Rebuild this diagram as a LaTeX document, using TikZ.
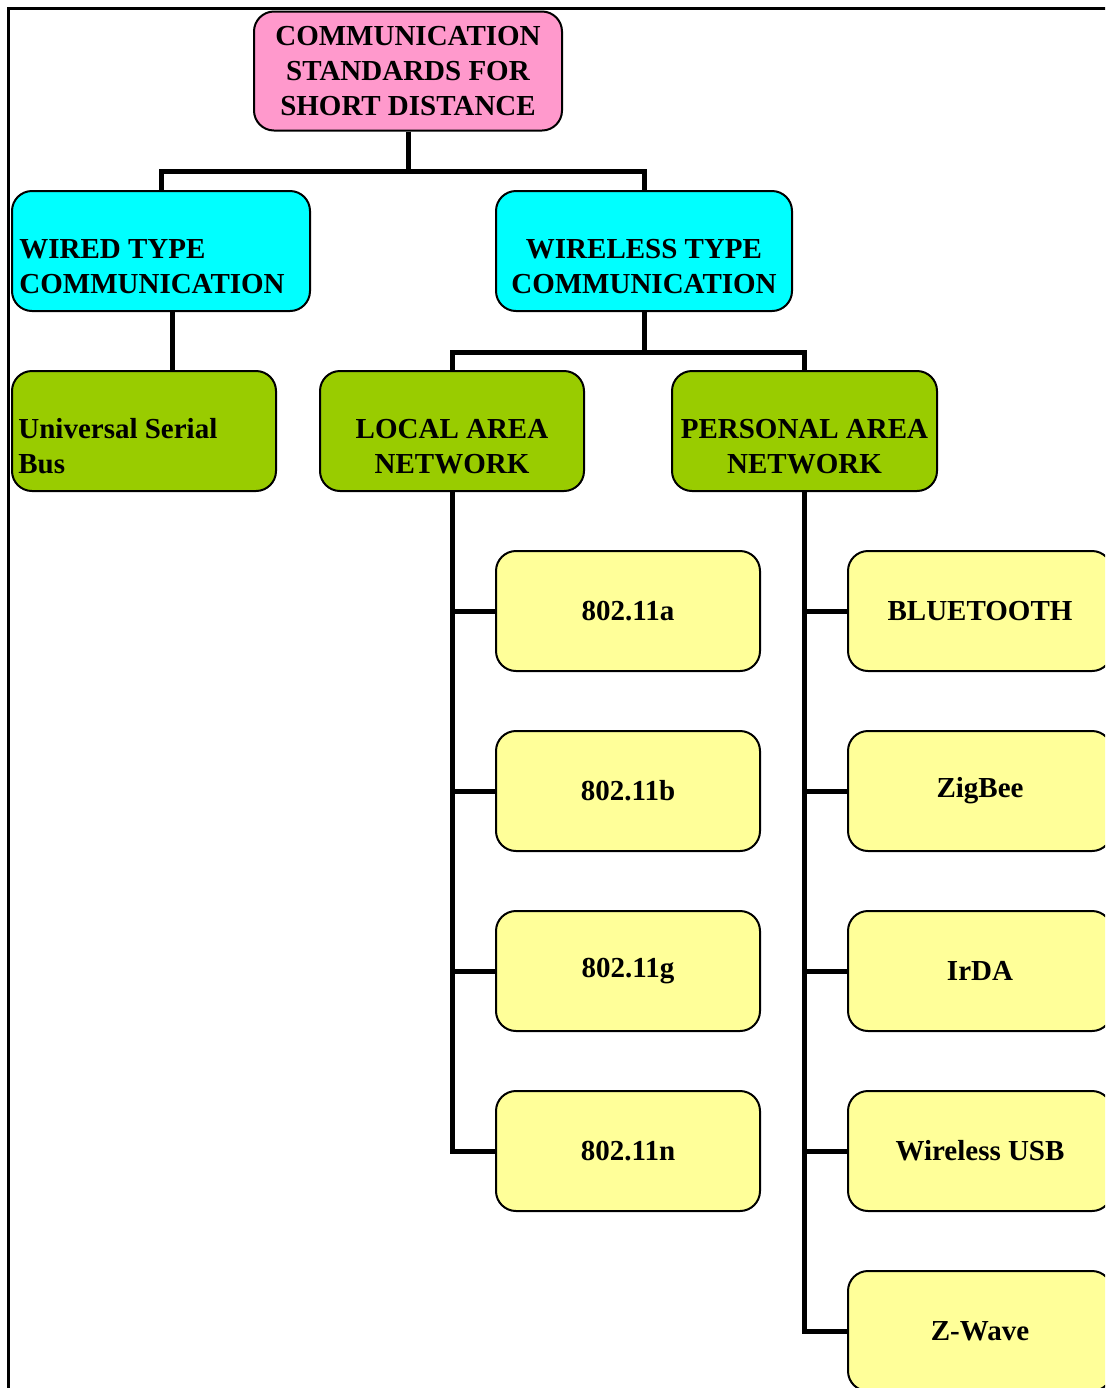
\documentclass[tikz,border=0pt]{standalone}
\usepackage{fontspec}
\setmainfont{Liberation Serif}
\definecolor{rootpink}{HTML}{FF99CC}
\definecolor{typecyan}{HTML}{00FFFF}
\definecolor{netgreen}{HTML}{99CC00}
\definecolor{stdyellow}{HTML}{FFFF99}
\tikzset{
  box/.style={draw, rounded corners=10pt, line width=1pt, minimum height=60pt,
    inner sep=0pt, font=\fontsize{14.5}{17.5}\selectfont\bfseries, align=center},
  capt/.style={inner sep=0pt, font=\fontsize{14.5}{17.5}\selectfont\bfseries},
  link/.style={line width=2.5pt},
}
\begin{document}
\begin{tikzpicture}[x=0.5pt, y=-0.5pt]
      \useasboundingbox (0,0) rectangle (1105,1388);
      \clip (0,0) rectangle (1105,1388);
      \draw[line width=1.5pt] (8,1400) -- (8,8) -- (1120,8);
      \node[box, fill=rootpink, minimum width=154pt, minimum height=59.5pt] (root) at (408,71)
        {COMMUNICATION\\STANDARDS FOR\\SHORT DISTANCE};
      \node[box, fill=typecyan, minimum width=149pt,
        label={[capt, align=left, anchor=west, xshift=4pt, yshift=-7.75pt]west:WIRED TYPE\\COMMUNICATION}]
        (wired) at (161,251) {};
      \node[box, fill=typecyan, minimum width=148pt,
        label={[capt, align=center, yshift=-7.75pt]center:WIRELESS TYPE\\COMMUNICATION}]
        (wireless) at (644,251) {};
      \node[box, fill=netgreen, minimum width=132pt,
        label={[capt, align=left, anchor=west, xshift=3.5pt, yshift=-7.75pt]west:Universal Serial\\Bus}]
        (usb) at (144,431) {};
      \node[box, fill=netgreen, minimum width=132pt,
        label={[capt, align=center, yshift=-7.75pt]center:LOCAL AREA\\NETWORK}]
        (lan) at (452,431) {};
      \node[box, fill=netgreen, minimum width=132.5pt,
        label={[capt, align=center, yshift=-7.75pt]center:PERSONAL AREA\\NETWORK}]
        (pan) at (804.5,431) {};
      % LAN standards
      \node[box, fill=stdyellow, minimum width=132pt] (11a) at (628,611) {802.11a};
      \node[box, fill=stdyellow, minimum width=132pt] (11b) at (628,791) {802.11b};
      \node[box, fill=stdyellow, minimum width=132pt] (11g) at (628,971) {802.11g};
      \node[box, fill=stdyellow, minimum width=132pt] (11n) at (628,1151) {802.11n};
      % PAN standards
      \node[box, fill=stdyellow, minimum width=132pt] (bt) at (980,611) {BLUETOOTH};
      \node[box, fill=stdyellow, minimum width=132pt] (zigbee) at (980,791) {ZigBee};
      \node[box, fill=stdyellow, minimum width=132pt] (irda) at (980,971) {IrDA};
      \node[box, fill=stdyellow, minimum width=132pt] (wusb) at (980,1151) {Wireless USB};
      \node[box, fill=stdyellow, minimum width=132pt] (zwave) at (980,1331) {Z-Wave};
      \begin{scope}[link]
        \draw (root.south) -- ++(0,40) -| (wired.north);
        \draw (root.south) -- ++(0,40) -| (wireless.north);
        \draw ([xshift=5.5pt]wired.south) -- ([xshift=5.5pt]wired.south |- usb.north);
        \draw (wireless.south) -- ++(0,40) -| (lan.north);
        \draw (wireless.south) -- ++(0,40) -| (pan.north);
        \draw (lan.south) |- (11a.west);
        \draw (lan.south) |- (11b.west);
        \draw (lan.south) |- (11g.west);
        \draw (lan.south) |- (11n.west);
        \draw (pan.south) |- (bt.west);
        \draw (pan.south) |- (zigbee.west);
        \draw (pan.south) |- (irda.west);
        \draw (pan.south) |- (wusb.west);
        \draw (pan.south) |- (zwave.west);
      \end{scope}
    \end{tikzpicture}
\end{document}
